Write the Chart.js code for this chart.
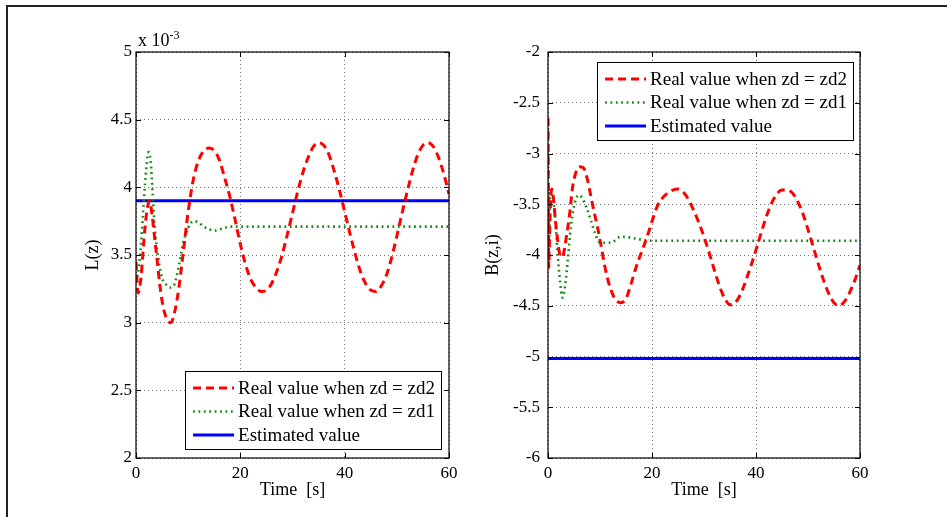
<!DOCTYPE html>
<html lang="en">
<head>
<meta charset="UTF-8" />
<title>L(z) and B(z,i) versus time</title>
<script src="https://cdn.jsdelivr.net/npm/chart.js"></script>
<style>
  body { margin: 0; background: #fff; }
  #page { position: relative; width: 947px; height: 517px; overflow: hidden; background: #fff; }
  #frame { position: absolute; left: 6px; top: 5px; width: 960px; height: 530px;
           border-top: 2px solid #222; border-left: 2px solid #222; }
  canvas { position: absolute; left: 0; top: 0; }
</style>
</head>
<body>
<div id="page">
  <div id="frame"></div>
  <canvas id="chartL" width="947" height="517"></canvas>
  <canvas id="chartB" width="947" height="517"></canvas>
</div>
<script>
// ---- data ----
const seriesNames = ['Real value when zd = zd2', 'Real value when zd = zd1', 'Estimated value'];
const xTicks = [0, 20, 40, 60];

// left panel, L(z) in units of 1e-3
const tL_zd2 = [0, 0.4, 1, 1.5, 2, 2.6, 3.1, 3.5, 4, 4.5, 5, 5.5, 6, 6.6,
  7, 8, 9, 10, 11, 12, 13, 14, 15, 16, 17, 18, 19, 20, 21, 22, 23, 24, 25, 26, 27, 28, 29, 30,
  31, 32, 33, 34, 35, 36, 37, 38, 39, 40, 41, 42, 43, 44, 45, 46, 47, 48, 49, 50, 51, 52, 53,
  54, 55, 56, 57, 58, 59, 60];
const L_zd2 = [3.45, 3.22, 3.35, 3.6, 3.8, 3.9, 3.79, 3.65, 3.48, 3.3, 3.16, 3.07, 3.02, 3.0,
  3.02, 3.2, 3.5, 3.82, 4.06, 4.2, 4.27, 4.29, 4.27, 4.2, 4.07, 3.93, 3.76, 3.58, 3.43, 3.32,
  3.26, 3.23, 3.24, 3.29, 3.38, 3.5, 3.65, 3.81, 3.97, 4.11, 4.22, 4.3, 4.33, 4.31, 4.24, 4.12,
  3.98, 3.82, 3.66, 3.51, 3.38, 3.29, 3.24, 3.23, 3.27, 3.35, 3.48, 3.64, 3.81, 3.97, 4.12,
  4.24, 4.31, 4.33, 4.3, 4.22, 4.1, 3.95];
const tL_zd1 = [0, 0.5, 1, 1.5, 2, 2.4, 2.8, 3.2, 3.6, 4, 4.5, 5, 5.8, 6.5, 7.2, 8, 9, 10, 11,
  12, 13, 14, 15, 16, 17, 18, 20, 25, 30, 40, 50, 60];
const L_zd1 = [3.3, 3.4, 3.6, 3.9, 4.15, 4.26, 4.2, 3.95, 3.7, 3.55, 3.42, 3.33, 3.28, 3.26,
  3.27, 3.38, 3.58, 3.7, 3.75, 3.74, 3.71, 3.69, 3.68, 3.69, 3.7, 3.71, 3.71, 3.71, 3.71,
  3.71, 3.71, 3.71];
const tL_est = [0, 60];
const L_est = [3.9, 3.9];

// right panel, B(z,i)
const tB_zd2 = [0, 0.15, 0.4, 0.7, 1, 1.5, 1.9, 2.3, 2.8, 3.2, 3.6, 4.2, 4.7, 5.4, 6, 6.8, 7.6,
  8.2, 8.8, 9.5, 10, 11, 12, 13, 14, 15, 16, 17, 18, 19, 20, 21, 22, 23, 24, 25, 26, 27, 28,
  29, 30, 31, 32, 33, 34, 35, 36, 37, 38, 39, 40, 41, 42, 43, 44, 45, 46, 47, 48, 49, 50, 51,
  52, 53, 54, 55, 56, 57, 58, 59, 60];
const B_zd2 = [-2.65, -4.12, -3.6, -3.35, -3.42, -3.7, -3.87, -4.0, -4.02, -3.93, -3.8, -3.58,
  -3.34, -3.18, -3.13, -3.14, -3.26, -3.41, -3.56, -3.72, -3.85, -4.13, -4.33, -4.44, -4.47,
  -4.43, -4.28, -4.11, -3.97, -3.83, -3.67, -3.52, -3.44, -3.39, -3.36, -3.35, -3.38, -3.45,
  -3.56, -3.68, -3.82, -3.98, -4.15, -4.31, -4.43, -4.49, -4.47, -4.39, -4.26, -4.11, -3.95,
  -3.78, -3.62, -3.49, -3.4, -3.36, -3.36, -3.39, -3.47, -3.59, -3.75, -3.92, -4.09, -4.25,
  -4.38, -4.47, -4.5, -4.46, -4.37, -4.25, -4.1];
const tB_zd1 = [0, 0.15, 0.5, 1, 1.4, 1.8, 2.2, 2.8, 3.3, 3.8, 4.4, 5, 5.9, 6.6, 7.3, 8.2, 9,
  9.8, 10.5, 12, 14, 16, 18, 20, 25, 30, 40, 50, 60];
const B_zd1 = [-2.7, -3.9, -3.35, -3.45, -3.65, -3.95, -4.2, -4.42, -4.3, -4.05, -3.72, -3.52,
  -3.41, -3.44, -3.52, -3.65, -3.78, -3.87, -3.88, -3.88, -3.82, -3.83, -3.85, -3.86, -3.86,
  -3.86, -3.86, -3.86, -3.86];
const tB_est = [0, 60];
const B_est = [-5.02, -5.02];

const serif = "'Liberation Serif', 'Times New Roman', serif";

function pts(xs, ys) {
  return xs.map((x, i) => ({ x: x, y: ys[i] }));
}

function makeSets(t2, v2, t1, v1, te, ve) {
  return [
    { label: seriesNames[0], data: pts(t2, v2), borderColor: '#ff0000', borderWidth: 3,
      borderDash: [8, 5], cubicInterpolationMode: 'monotone', pointRadius: 0 },
    { label: seriesNames[1], data: pts(t1, v1), borderColor: 'rgb(20,140,20)', borderWidth: 2.6,
      borderDash: [1.8, 3.6], cubicInterpolationMode: 'monotone', pointRadius: 0 },
    { label: seriesNames[2], data: pts(te, ve), borderColor: '#0000ff', borderWidth: 3,
      pointRadius: 0 }
  ];
}

// axes box, inward ticks, legend and exponent label drawn MATLAB style
const matlabAxes = {
  id: 'matlabAxes',
  afterDraw(chart, args, opts) {
    const { ctx, chartArea: a, scales } = chart;
    ctx.save();
    ctx.setLineDash([]);
    ctx.strokeStyle = '#000';
    ctx.lineWidth = 1.2;
    ctx.strokeRect(a.left, a.top, a.right - a.left, a.bottom - a.top);
    ctx.lineWidth = 1;
    ctx.beginPath();
    scales.x.ticks.forEach(t => {
      const px = Math.round(scales.x.getPixelForValue(t.value)) + 0.5;
      ctx.moveTo(px, a.bottom); ctx.lineTo(px, a.bottom - 5);
      ctx.moveTo(px, a.top); ctx.lineTo(px, a.top + 5);
    });
    scales.y.ticks.forEach(t => {
      const py = Math.round(scales.y.getPixelForValue(t.value)) + 0.5;
      ctx.moveTo(a.left, py); ctx.lineTo(a.left + 5, py);
      ctx.moveTo(a.right, py); ctx.lineTo(a.right - 5, py);
    });
    ctx.stroke();

    if (opts.exponent) {
      ctx.fillStyle = '#000';
      ctx.textBaseline = 'alphabetic';
      ctx.textAlign = 'left';
      ctx.font = '18px ' + serif;
      ctx.fillText('x 10', a.left + 2, a.top - 6);
      const w = ctx.measureText('x 10').width;
      ctx.font = '12px ' + serif;
      ctx.fillText('-3', a.left + 2 + w, a.top - 13);
    }

    if (opts.legend) {
      ctx.font = '19px ' + serif;
      const sets = chart.data.datasets;
      const tw = Math.max(...sets.map(d => ctx.measureText(d.label).width));
      const w = 53 + tw + 6, h = 78;
      const x = a.right - opts.legend.dx - w;
      const y = opts.legend.corner === 'top' ? a.top + opts.legend.dy : a.bottom - opts.legend.dy - h;
      ctx.fillStyle = '#fff';
      ctx.fillRect(x, y, w, h);
      ctx.strokeStyle = '#000';
      ctx.lineWidth = 1;
      ctx.strokeRect(Math.round(x) + 0.5, Math.round(y) + 0.5, Math.round(w), h);
      sets.forEach((d, i) => {
        const ry = y + 17 + i * 23.5;
        ctx.strokeStyle = d.borderColor;
        ctx.lineWidth = d.borderWidth;
        ctx.setLineDash(d.borderDash || []);
        ctx.beginPath();
        ctx.moveTo(x + 8, ry); ctx.lineTo(x + 49, ry);
        ctx.stroke();
        ctx.setLineDash([]);
        ctx.fillStyle = '#000';
        ctx.textAlign = 'left';
        ctx.textBaseline = 'middle';
        ctx.fillText(d.label, x + 53, ry + 1);
      });
    }
    ctx.restore();
  }
};

function makeChart(id, sets, yMin, yMax, yTitle, padLeft, yWidth, padRight, tickPad, pluginOpts) {
  return new Chart(document.getElementById(id), {
    type: 'line',
    data: { datasets: sets },
    options: {
      responsive: false,
      animation: false,
      devicePixelRatio: 1,
      layout: { padding: { left: padLeft, right: padRight, top: 52, bottom: 0 } },
      plugins: { legend: { display: false }, tooltip: { enabled: false }, matlabAxes: pluginOpts },
      scales: {
        x: {
          type: 'linear', min: 0, max: 60,
          afterBuildTicks: s => { s.ticks = xTicks.map(v => ({ value: v })); },
          afterFit: s => { s.height = 59; },
          ticks: { color: '#000', font: { family: serif, size: 17 }, padding: 5, maxRotation: 0 },
          grid: { color: 'rgba(0,0,0,0.55)', lineWidth: 1, drawTicks: false },
          border: { display: false, dash: [1, 3] },
          title: { display: true, text: 'Time  [s]', color: '#000',
                   font: { family: serif, size: 18 }, padding: { top: 0, bottom: 16 } }
        },
        y: {
          min: yMin, max: yMax,
          ticks: { stepSize: 0.5, color: '#000', font: { family: serif, size: 17 }, padding: tickPad,
                   callback: v => String(Math.round(v * 10) / 10) },
          afterFit: s => { s.width = yWidth; },
          grid: { color: 'rgba(0,0,0,0.55)', lineWidth: 1, drawTicks: false },
          border: { display: false, dash: [1, 3] },
          title: { display: true, text: yTitle, color: '#000',
                   font: { family: serif, size: 18 }, padding: { top: 4, bottom: 0 } }
        }
      }
    },
    plugins: [matlabAxes]
  });
}

makeChart('chartL', makeSets(tL_zd2, L_zd2, tL_zd1, L_zd1, tL_est, L_est), 2, 5, 'L(z)',
  78, 58, 498, 4, { exponent: true, legend: { corner: 'bottom', dx: 8, dy: 9 } });
makeChart('chartB', makeSets(tB_zd2, B_zd2, tB_zd1, B_zd1, tB_est, B_est), -6, -2, 'B(z,i)',
  478, 70, 87, 8, { legend: { corner: 'top', dx: 7, dy: 10 } });
</script>
</body>
</html>
